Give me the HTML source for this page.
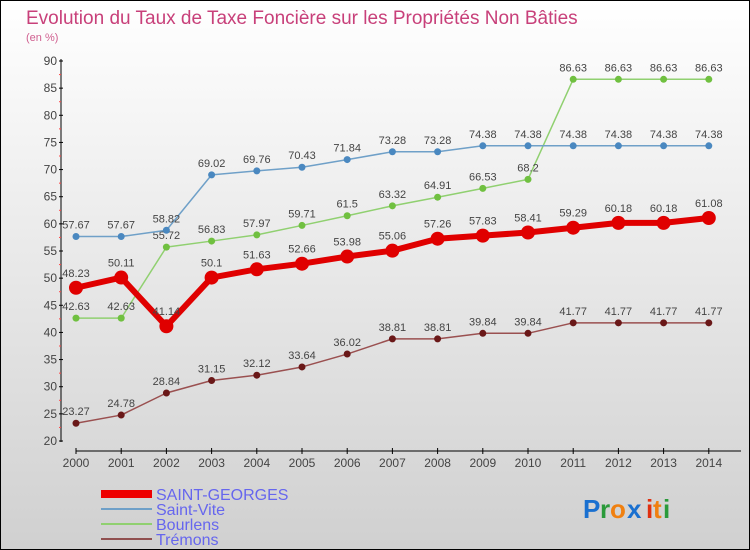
<!DOCTYPE html>
<html><head><meta charset="utf-8"><style>
body{margin:0}
#wrap{width:748px;height:548px;border:1px solid #000;background:linear-gradient(#fff,#d0d0d0);position:relative;overflow:hidden;font-family:"Liberation Sans",sans-serif}
svg text{font-family:"Liberation Sans",sans-serif}
</style></head><body>
<div id="wrap">
<svg id="s" width="748" height="548" xmlns="http://www.w3.org/2000/svg">
<text x="25" y="23" font-size="19" fill="#c8407a">Evolution du Taux de Taxe Foncière sur les Propriétés Non Bâties</text>
<text x="25" y="40" font-size="11" fill="#d06090">(en %)</text>
<g id="axes"></g><g id="series"></g>
<g>
<rect x="100" y="489" width="51" height="8" fill="#e00"/>
<text x="155" y="499" font-size="16" fill="#6666ee">SAINT-GEORGES</text>
<rect x="100" y="507" width="51" height="2" fill="#6fa0c8"/>
<text x="155" y="514" font-size="16" fill="#6666ee">Saint-Vite</text>
<rect x="100" y="522" width="51" height="2" fill="#90d070"/>
<text x="155" y="529" font-size="16" fill="#6666ee">Bourlens</text>
<rect x="100" y="537" width="51" height="2" fill="#905050"/>
<text x="155" y="544" font-size="16" fill="#6666ee">Trémons</text>
</g>
<g font-size="26" font-weight="bold">
<text x="582" y="517" fill="#1a70d0">P</text><text x="599" y="517" fill="#2a9a3a">r</text><text x="609" y="517" fill="#f08010">o</text><text x="626" y="517" fill="#1a70d0">x</text><text x="645" y="517" fill="#e03010">i</text><text x="652" y="517" fill="#f08010">t</text><text x="662" y="517" fill="#2a9a3a">i</text>
</g>
</svg></div>
<script>
const years=[2000,2001,2002,2003,2004,2005,2006,2007,2008,2009,2010,2011,2012,2013,2014];
const yTicks=[20,25,30,35,40,45,50,55,60,65,70,75,80,85,90];
const saintGeorges=[48.23,50.11,41.14,50.1,51.63,52.66,53.98,55.06,57.26,57.83,58.41,59.29,60.18,60.18,61.08];
const saintVite=[57.67,57.67,58.82,69.02,69.76,70.43,71.84,73.28,73.28,74.38,74.38,74.38,74.38,74.38,74.38];
const bourlens=[42.63,42.63,55.72,56.83,57.97,59.71,61.5,63.32,64.91,66.53,68.2,86.63,86.63,86.63,86.63];
const tremons=[23.27,24.78,28.84,31.15,32.12,33.64,36.02,38.81,38.81,39.84,39.84,41.77,41.77,41.77,41.77];
const NS="http://www.w3.org/2000/svg";
const xS=i=>75+i*45.2;
const yS=v=>440-(v-20)*(380/70);
function mk(t,a,p){const e=document.createElementNS(NS,t);for(const k in a)e.setAttribute(k,a[k]);p.appendChild(e);return e;}
const ax=document.getElementById('axes');
let l=mk('line',{x1:60,y1:58,x2:60,y2:441,stroke:'#000','stroke-width':1},ax);


l=mk('line',{x1:75,y1:450,x2:740,y2:450,stroke:'#000','stroke-width':1},ax);


yTicks.forEach(v=>{
 mk('line',{x1:58,y1:yS(v),x2:62,y2:yS(v),stroke:'#000'},ax);
 if(v<90)mk('line',{x1:58,y1:yS(v+2.5),x2:60,y2:yS(v+2.5),stroke:'#f44'},ax);
 const t=mk('text',{x:56,y:yS(v)+4,'font-size':12,fill:'#444','text-anchor':'end'},ax);
 t.textContent=v;
 
 
});
years.forEach((y,i)=>{
 mk('line',{x1:xS(i),y1:447,x2:xS(i),y2:453,stroke:'#000'},ax);
 const t=mk('text',{x:xS(i),y:466,'font-size':12,fill:'#444','text-anchor':'middle'},ax);
 t.textContent=y;
 
 
});
const sg=document.getElementById('series');
function draw(vals,name,color,dot,lw,r,labelDy){
 const g=mk('g',{},sg);
 
 
 const pl=mk('polyline',{points:vals.map((v,i)=>xS(i)+','+yS(v)).join(' '),fill:'none',stroke:color,'stroke-width':lw,'stroke-linejoin':'round'},g);
 
 
 vals.forEach((v,i)=>{
  const c=mk('circle',{cx:xS(i),cy:yS(v),r:r,fill:dot},g);
  
  
  const t=mk('text',{x:xS(i),y:yS(v)+labelDy,'font-size':11,fill:'#444','text-anchor':'middle'},g);
  t.textContent=v;
  
  
 });
}
draw(tremons,'tremons','#9a5050','#6a1818',1.5,3.5,-8);
draw(bourlens,'bourlens','#90d070','#70c040',1.5,3.5,-8);
draw(saintVite,'saint-vite','#6fa0c8','#4a88c0',1.5,3.5,-8);
draw(saintGeorges,'saint-georges','#e00000','#e00000',6,7,-11);
</script>
</body></html>
